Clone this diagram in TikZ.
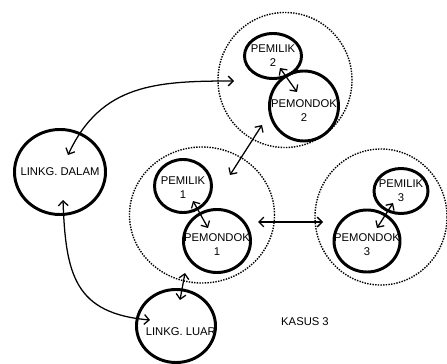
\documentclass[tikz,border=0pt]{standalone}
\usepackage{fontspec}
\setmainfont{Liberation Sans}
\usetikzlibrary{arrows.meta,shapes.geometric,calc}

\begin{document}
\begin{tikzpicture}[x=0.025cm, y=0.025cm,
    font=\fontsize{8}{10}\selectfont,
    party/.style={draw, ellipse, line width=2.1pt, inner sep=0pt},
    tag/.style={align=center, inner sep=0pt},
    kasus/.style={draw, ellipse, line width=1pt, dash pattern=on 1pt off 0.9pt, inner sep=0pt},
    link/.style={{Straight Barb[length=3.5pt,width=7pt]}-{Straight Barb[length=3.5pt,width=7pt]}, line width=0.9pt}]
    \pgfdeclarelayer{background}
    \pgfsetlayers{background,main}
    \useasboundingbox (0,0) rectangle (447,363);
    \node[party, minimum width=2.275cm, minimum height=2.125cm, label={[tag]center:LINKG. DALAM}] (dalam) at (60,191) {};
    \node[party, minimum width=1.975cm, minimum height=1.825cm, label={[tag, xshift=0.12cm, yshift=-0.15cm]center:LINKG. LUAR}] (luar) at (176,37) {};
    \node[party, minimum width=1.425cm, minimum height=1.325cm, label={[tag, yshift=-0.05cm]center:PEMILIK\\1}] (pemilik1) at (183,177) {};
    \node[party, minimum width=1.675cm, minimum height=1.575cm, label={[tag, yshift=-0.1cm]center:PEMONDOK\\1}] (pemondok1) at (217,122) {};
    \node[party, minimum width=1.425cm, minimum height=1.125cm, label={[tag]center:PEMILIK\\2}] (pemilik2) at (273,307) {};
    \node[party, minimum width=1.725cm, minimum height=1.75cm, label={[tag, yshift=-0.12cm]center:PEMONDOK\\2}] (pemondok2) at (304,257) {};
    \node[party, minimum width=1.35cm, minimum height=1.125cm, label={[tag]center:PEMILIK\\3}] (pemilik3) at (401,172) {};
    \node[party, minimum width=1.65cm, minimum height=1.55cm, label={[tag, yshift=-0.1cm]center:PEMONDOK\\3}] (pemondok3) at (367,122) {};
    \node (judul) at (305,41) {KASUS 3};
    \begin{pgfonlayer}{background}
        \node[kasus, minimum width=3.625cm, minimum height=3.4cm] (kasus1) at (202,148) {};
        \node[kasus, minimum width=3.35cm, minimum height=3.375cm] (kasus2) at (285,283) {};
        \node[kasus, minimum width=3.3cm, minimum height=3.4cm] (kasus3) at (381,146) {};
    \end{pgfonlayer}
    \draw[link] ($(dalam)+(8,17)$) to[out=65, in=180, looseness=1.1] ($(kasus2)+(-51,-1)$);
    \draw[link] ($(dalam)+(3,-28)$) to[out=272, in=175, looseness=1.3] ($(luar)+(-26,6)$);
    \draw[link] ($(kasus1)+(28,40)$) -- ($(kasus2)+(-23,-45)$);
    \draw[link] ($(kasus1)+(56,-7)$) -- ($(kasus3)+(-58,-5)$);
    \draw[link] ($(kasus1)+(-17,-58)$) -- ($(luar)+(4,26)$);
    \draw[link] ($(pemilik1)+(10,-15)$) -- ($(pemondok1)+(-9,13)$);
    \draw[link] ($(pemilik2)+(7,-12)$) -- ($(pemondok2)+(-7,14)$);
    \draw[link] ($(pemilik3)+(-8,-12)$) -- ($(pemondok3)+(10,13)$);
\end{tikzpicture}
\end{document}
